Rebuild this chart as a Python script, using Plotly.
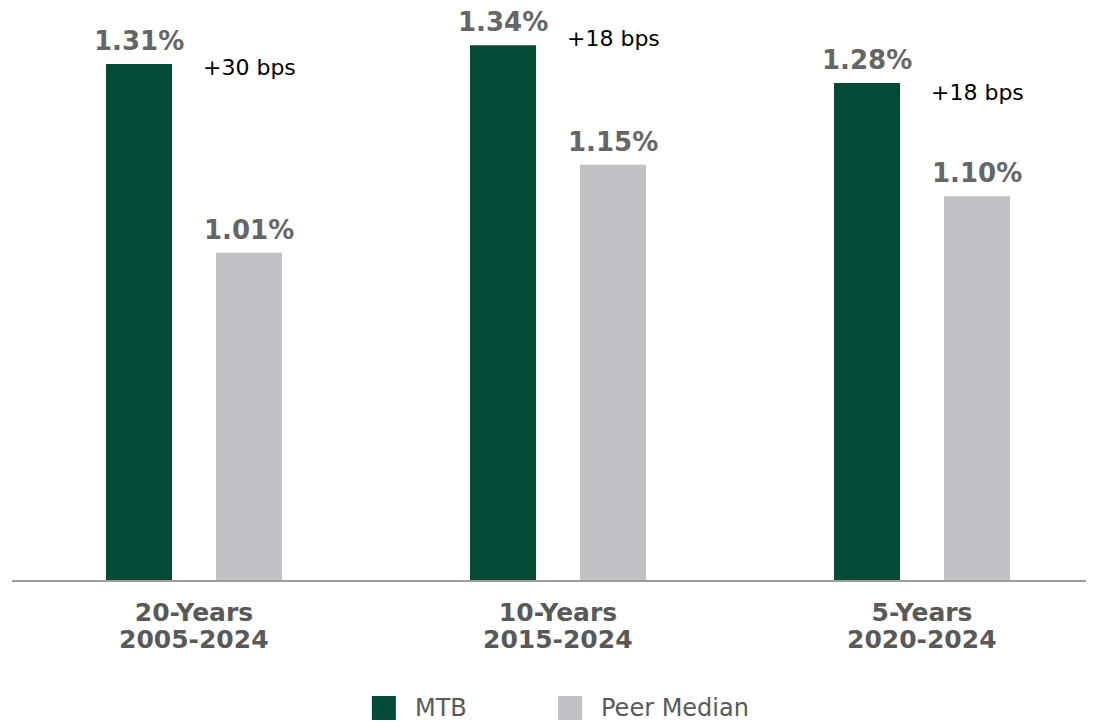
import plotly.graph_objects as go

# categories and values
periods = ["20-Years", "10-Years", "5-Years"]
year_spans = ["2005-2024", "2015-2024", "2020-2024"]
series_names = ["MTB", "Peer Median"]
mtb = [1.31, 1.34, 1.28]
peer = [1.01, 1.15, 1.10]
bps_labels = ["+30 bps", "+18 bps", "+18 bps"]
bps_shift = [-3, 7, -10]

GREEN = "#024b36"
GREY = "#c1c2c5"
LABEL_GREY = "#666666"
TICK_GREY = "#595959"
FONT = "DejaVu Sans"

fig = go.Figure()
fig.add_trace(go.Bar(x=periods, y=mtb, name=series_names[0],
                     marker=dict(color=GREEN, line=dict(width=0))))
fig.add_trace(go.Bar(x=periods, y=peer, name=series_names[1],
                     marker=dict(color=GREY, line=dict(width=0))))

# value labels above the bars
for vals, dx in ((mtb, -55), (peer, 55)):
    for cat, v in zip(periods, vals):
        fig.add_annotation(
            x=cat, y=v, xref="x", yref="y", text=f"{v:.2f}%",
            showarrow=False, xshift=dx, yanchor="bottom", yshift=6,
            font=dict(family=FONT, size=26, color=LABEL_GREY, weight="bold"),
        )

# bps differences next to the bars
for cat, v, txt, s in zip(periods, mtb, bps_labels, bps_shift):
    fig.add_annotation(
        x=cat, y=v, xref="x", yref="y", text=txt, showarrow=False,
        xshift=55, yanchor="middle", yshift=s,
        font=dict(family=FONT, size=22, color="#000000"),
    )

# second line of category labels
for cat, span in zip(periods, year_spans):
    fig.add_annotation(
        x=cat, y=-0.0765, xref="x", yref="paper",
        text=span, showarrow=False, yanchor="top",
        font=dict(family=FONT, size=25, color=TICK_GREY, weight="bold"),
    )

# legend drawn by hand so the swatches can be large
legend_items = [(series_names[0], GREEN, 0.3326), (series_names[1], GREY, 0.5047)]
for name, col, x0 in legend_items:
    fig.add_shape(type="rect", xref="paper", yref="paper",
                  x0=x0, x1=x0 + 0.0222, y0=-0.2500, y1=-0.2071,
                  fillcolor=col, line=dict(width=0))
    fig.add_annotation(
        x=x0 + 0.0382, y=-0.2286, xref="paper", yref="paper", text=name,
        showarrow=False, xanchor="left", yanchor="middle",
        font=dict(family=FONT, size=24, color=TICK_GREY),
    )

# page body has an 8px margin, so the figure is 8px smaller and shifted
fig.update_layout(
    width=1086, height=714,
    margin=dict(l=4, r=0, t=12, b=142),
    plot_bgcolor="white", paper_bgcolor="white",
    barmode="group", bargap=0.3956, bargroupgap=0.4,
    showlegend=False,
    font=dict(family=FONT),
)
fig.update_xaxes(
    range=[-0.5, 2.4725], showline=True, linecolor="#9c9c9c", linewidth=2,
    showgrid=False, ticks="", ticklabelstandoff=9,
    tickfont=dict(family=FONT, size=25, color=TICK_GREY, weight="bold"),
)
fig.update_yaxes(range=[0.49, 1.38], visible=False, showgrid=False)

fig.write_html("out.html")
